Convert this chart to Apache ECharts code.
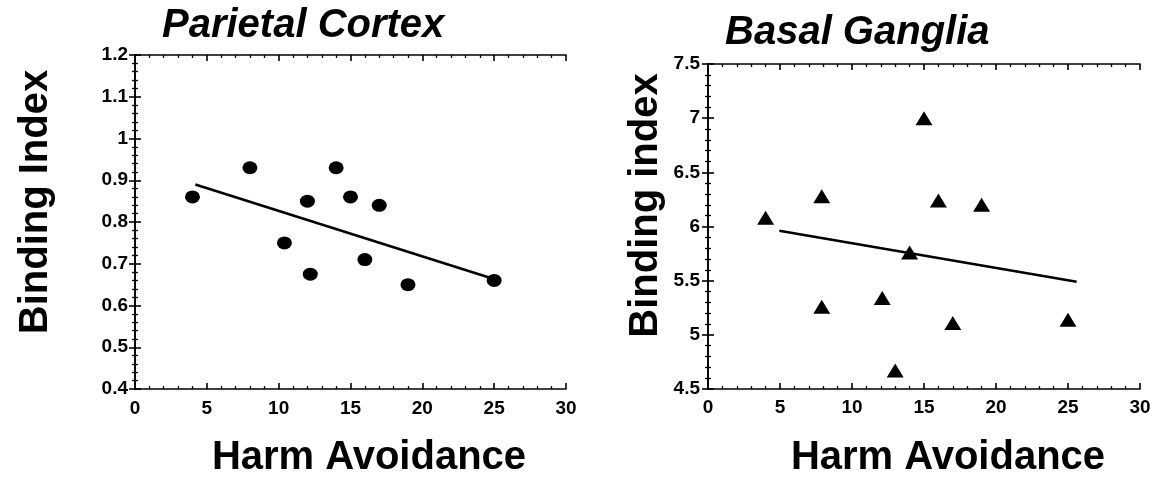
<!DOCTYPE html>
<html>
<head>
<meta charset="utf-8">
<script src="https://cdn.jsdelivr.net/npm/echarts@6/dist/echarts.min.js"></script>
<style>
html,body{margin:0;padding:0;background:#fff;}
#chart{width:1155px;height:483px;}
</style>
</head>
<body>
<div id="chart"></div>
<script>
// Parietal Cortex data
var pcX = [4, 8, 10.4, 12, 12.2, 14, 15, 16, 17, 19, 25];
var pcY = [0.86, 0.93, 0.75, 0.85, 0.675, 0.93, 0.86, 0.71, 0.84, 0.65, 0.66];
var pcFitX = [4.2, 25.2];
var pcFitY = [0.89, 0.661];
// Basal Ganglia data
var bgX = [4, 7.9, 7.9, 12.1, 13, 14, 15, 16, 17, 19, 25];
var bgY = [6.08, 6.28, 5.26, 5.34, 4.67, 5.76, 7.0, 6.24, 5.11, 6.2, 5.14];
var bgFitX = [4.95, 25.6];
var bgFitY = [5.96, 5.49];
// Titles and labels
var titles = ['Parietal Cortex', 'Basal Ganglia'];
var xNames = ['Harm Avoidance', 'Harm Avoidance'];
var yNames = ['Binding Index', 'Binding index'];

function zip(a, b) { return a.map(function (v, i) { return [v, b[i]]; }); }

var FONT = 'Liberation Sans, Arial, Helvetica, sans-serif';
var lineStyle = { color: '#000', width: 1.6 };
var tick = { show: true, inside: false, length: -6, lineStyle: lineStyle };
var minor = { show: true, splitNumber: 5, length: -3, lineStyle: { color: '#000', width: 1.3 } };

function mainX(grid, gap, pad, margin) {
  return {
    type: 'value', gridIndex: grid, position: 'bottom', min: 0, max: 30, interval: 5,
    name: xNames[grid], nameLocation: 'middle', nameGap: gap,
    nameTextStyle: { fontFamily: FONT, fontSize: 40, fontWeight: 'bold', color: '#000', padding: [0, 0, 0, pad] },
    axisLine: { show: true, lineStyle: lineStyle },
    axisTick: tick, minorTick: minor,
    axisLabel: { fontFamily: FONT, fontSize: 19, fontWeight: 'bold', color: '#000', margin: margin },
    splitLine: { show: false }
  };
}
function topX(grid) {
  return {
    type: 'value', gridIndex: grid, position: 'top', min: 0, max: 30, interval: 5,
    axisLine: { show: true, lineStyle: lineStyle },
    axisTick: tick, minorTick: minor,
    axisLabel: { show: false }, splitLine: { show: false }
  };
}
function mainY(grid, min, max, interval, gap, pad, margin) {
  return {
    type: 'value', gridIndex: grid, position: 'left', min: min, max: max, interval: interval,
    name: yNames[grid], nameLocation: 'middle', nameGap: gap,
    nameTextStyle: { fontFamily: FONT, fontSize: 40, fontWeight: 'bold', color: '#000', padding: [0, 0, 0, pad] },
    axisLine: { show: true, lineStyle: lineStyle },
    axisTick: tick, minorTick: minor,
    axisLabel: { fontFamily: FONT, fontSize: 19, fontWeight: 'bold', color: '#000', margin: margin },
    splitLine: { show: false }
  };
}
function rightY(grid, min, max, interval) {
  return {
    type: 'value', gridIndex: grid, position: 'right', min: min, max: max, interval: interval,
    axisLine: { show: true, lineStyle: lineStyle },
    axisTick: tick, minorTick: minor,
    axisLabel: { show: false }, splitLine: { show: false }
  };
}

var chart = echarts.init(document.getElementById('chart'), null, { renderer: 'canvas' });
chart.setOption({
  backgroundColor: '#fff',
  animation: false,
  title: [
    { text: titles[0], left: 162, top: 6, padding: 0,
      textStyle: { fontFamily: FONT, fontSize: 40, fontWeight: 'bold', fontStyle: 'italic', color: '#000' } },
    { text: titles[1], left: 725, top: 13, padding: 0,
      textStyle: { fontFamily: FONT, fontSize: 40, fontWeight: 'bold', fontStyle: 'italic', color: '#000' } }
  ],
  grid: [
    { left: 135, top: 55, width: 431, height: 334 },
    { left: 708, top: 64, width: 432, height: 335 }
  ],
  xAxis: [mainX(0, 49, 37, 10), topX(0), mainX(1, 49, 48, 9), topX(1)],
  yAxis: [mainY(0, 0.4, 1.2, 0.1, 79, 40, 7), rightY(0, 0.4, 1.2, 0.1),
          mainY(1, 4.5, 7.5, 0.5, 42, 42, 8), rightY(1, 4.5, 7.5, 0.5)],
  series: [
    { type: 'line', xAxisIndex: 0, yAxisIndex: 0, data: zip(pcFitX, pcFitY), symbol: 'none',
      lineStyle: { color: '#000', width: 2.6 }, z: 2 },
    { type: 'scatter', xAxisIndex: 0, yAxisIndex: 0, data: zip(pcX, pcY), symbol: 'circle',
      symbolSize: [15, 13], itemStyle: { color: '#000', opacity: 1 }, z: 3 },
    { type: 'line', xAxisIndex: 2, yAxisIndex: 2, data: zip(bgFitX, bgFitY), symbol: 'none',
      lineStyle: { color: '#000', width: 2.6 }, z: 2 },
    { type: 'scatter', xAxisIndex: 2, yAxisIndex: 2, data: zip(bgX, bgY), symbol: 'triangle',
      symbolSize: [17, 14], itemStyle: { color: '#000', opacity: 1 }, z: 3 }
  ]
});
</script>
</body>
</html>
